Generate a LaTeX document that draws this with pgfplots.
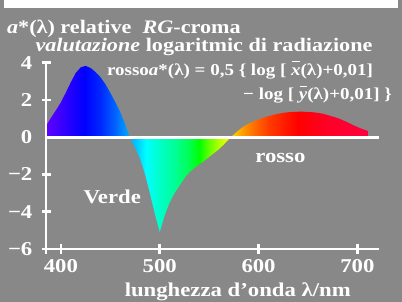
\documentclass[border=0pt]{standalone}
\usepackage{graphicx}
\usepackage{xcolor}
\usepackage{fontspec}
\setmainfont{Liberation Serif}
\usepackage{pgfplots}
\pgfplotsset{compat=1.18}
\definecolor{bggray}{RGB}{136,136,136}
\definecolor{wA}{RGB}{255,255,255}
\definecolor{wB}{RGB}{254,254,254}
\definecolor{wC}{RGB}{255,255,254}
\definecolor{wD}{RGB}{255,254,255}
\definecolor{wE}{RGB}{254,255,255}
\definecolor{wF}{RGB}{254,254,255}
\definecolor{wG}{RGB}{254,255,254}
\definecolor{wH}{RGB}{255,254,254}
\definecolor{wI}{RGB}{253,253,253}
\definecolor{wJ}{RGB}{253,254,254}
\definecolor{wK}{RGB}{254,253,254}
\pagecolor{bggray}
\newcommand\W[1]{\scalebox{1.16}[1]{#1}}
\newcommand\barit[1]{\leavevmode\setbox0\hbox{\itshape #1}\rlap{\kern0.12\wd0\raisebox{0.78em}{\rule{0.8\wd0}{0.055em}}}\box0}
\definecolor{s385}{RGB}{95,0,255}
\definecolor{s400}{RGB}{60,0,255}
\definecolor{s415}{RGB}{20,0,255}
\definecolor{s424}{RGB}{0,0,255}
\definecolor{s440}{RGB}{0,40,255}
\definecolor{s455}{RGB}{0,100,255}
\definecolor{s469}{RGB}{0,170,255}
\definecolor{s476}{RGB}{0,200,255}
\definecolor{s486}{RGB}{0,255,255}
\definecolor{s500}{RGB}{0,255,200}
\definecolor{s515}{RGB}{0,255,150}
\definecolor{s530}{RGB}{0,255,80}
\definecolor{s540}{RGB}{0,255,0}
\definecolor{s550}{RGB}{100,255,0}
\definecolor{s560}{RGB}{180,255,0}
\definecolor{s568}{RGB}{230,255,0}
\definecolor{s575}{RGB}{255,200,0}
\definecolor{s585}{RGB}{255,150,0}
\definecolor{s595}{RGB}{255,110,0}
\definecolor{s610}{RGB}{255,60,0}
\definecolor{s625}{RGB}{255,30,0}
\definecolor{s640}{RGB}{255,0,0}
\definecolor{s670}{RGB}{255,0,40}
\definecolor{s710}{RGB}{255,0,60}
\pgfdeclarehorizontalshading{spectrum}{100bp}{
 color(0bp)=(s385); color(25bp)=(s385); color(27.31bp)=(s400); color(29.62bp)=(s415);
 color(31bp)=(s424); color(33.46bp)=(s440); color(35.77bp)=(s455); color(37.92bp)=(s469);
 color(39bp)=(s476); color(40.54bp)=(s486); color(42.69bp)=(s500); color(45bp)=(s515);
 color(47.31bp)=(s530); color(48.85bp)=(s540); color(50.38bp)=(s550); color(51.92bp)=(s560);
 color(53.15bp)=(s568); color(54.23bp)=(s575); color(55.77bp)=(s585); color(57.31bp)=(s595);
 color(59.62bp)=(s610); color(61.92bp)=(s625); color(64.23bp)=(s640); color(68.85bp)=(s670);
 color(75bp)=(s710); color(100bp)=(s710)}
\begin{document}
\begin{tikzpicture}[x=1pt,y=1pt]
\path (-43,-54) rectangle (359,254);
\begin{axis}[
  at={(0,0)}, anchor=south west,
  scale only axis, width=339.7pt, height=190pt,
  xmin=385, xmax=722, ymin=-6, ymax=4,
  axis x line*=bottom, axis y line*=left,
  axis line style={draw=none},
  xtick={400,500,600,700}, ytick={-6,-4,-2,0,2,4},
  xticklabels={\W{400},\W{500},\W{600},\W{700}},
  yticklabels={\W{−6},\W{−4},\W{−2},\W{0},\W{2},\W{4}},
  tick style={draw=none},
  major tick length=9pt, tick align=center,
  ticklabel style={text=white, font=\fontsize{20}{20}\selectfont\bfseries},
  xticklabel style={yshift=-3pt},
  yticklabel style={xshift=-6pt},
  clip=false,
]
\addplot[draw=none, shading=spectrum] coordinates {
(385,0.62) (390,1.05) (395,1.45) (400,1.88) (405,2.4) (410,2.95) (415,3.45) (420,3.75) (425,3.83) (430,3.72)
(435,3.5) (440,3.22) (445,2.85) (450,2.38) (455,1.88) (460,1.35) (465,0.7) (469.5,0) (475,-0.55) (480,-1.15)
(485,-1.95) (490,-3.0) (495,-4.1) (500,-5.09) (505,-4.2) (510,-3.5) (515,-3.0) (520,-2.6) (525,-2.2) (530,-1.88)
(535,-1.65) (540,-1.45) (545,-1.27) (550,-1.05) (555,-0.85) (560,-0.64) (565,-0.38) (570,-0.1) (572,0) (575,0.15)
(580,0.38) (585,0.58) (590,0.73) (595,0.85) (600,0.95) (605,1.05) (610,1.13) (615,1.2) (620,1.26) (625,1.31)
(630,1.34) (635,1.36) (640,1.37) (645,1.37) (650,1.36) (655,1.34) (660,1.31) (665,1.26) (670,1.19) (675,1.11)
(680,1.03) (685,0.92) (690,0.8) (695,0.67) (700,0.55) (705,0.44) (710,0.35)
} \closedcycle;
% zero line
\addplot[wA, line width=2.7pt] coordinates {(385,0) (722,0)};
% axis lines
\addplot[wC, line width=2.7pt] coordinates {(381,-6) (722,-6)};
\addplot[wD, line width=2.7pt] coordinates {(385,-6.25) (385,4)};
% ticks
\addplot[wE, line width=2.7pt] coordinates {(400,-6.25) (400,-5.75)};
\addplot[wF, line width=2.7pt] coordinates {(500,-6.25) (500,-5.75)};
\addplot[wG, line width=2.7pt] coordinates {(600,-6.25) (600,-5.75)};
\addplot[wH, line width=2.7pt] coordinates {(700,-6.25) (700,-5.75)};
\addplot[wI, line width=2.7pt] coordinates {(381,-4) (390,-4)};
\addplot[wJ, line width=2.7pt] coordinates {(381,-2) (390,-2)};
\addplot[wK, line width=2.7pt] coordinates {(381,2) (390,2)};
\addplot[wC, line width=2.7pt] coordinates {(381,4) (390,4)};
% white strip at the top of the picture
\addplot[wB, line width=8pt] coordinates {(342.3,7.158) (741.2,7.158)};
\end{axis}
\begin{scope}[shift={(-43,-54)}, every node/.style={text=white, inner sep=0pt, font=\bfseries}]
\node[anchor=base west] at (3,273.7) {\fontsize{19.5}{20}\selectfont\W{\textit{a}*(λ) relative\ \ \textit{RG}-croma}};
\node[anchor=base west] at (32,255.3) {\fontsize{19.5}{20}\selectfont\W{\textit{valutazione} logaritmic di radiazione}};
\node[anchor=base west] at (105,231.3) {\fontsize{17}{18}\selectfont\scalebox{1.14}[1]{rosso\textit{a}*(λ) = 0,5 \{ log [ \barit{x}(λ)+0,01]}};
\node[anchor=base east] at (396,206.3) {\fontsize{17}{18}\selectfont\scalebox{1.14}[1]{− log [ \barit{y}(λ)+0,01] \}}};
\node[anchor=base] at (110.5,100) {\fontsize{20}{20}\selectfont\W{Verde}};
\node[anchor=base] at (282,142) {\fontsize{20}{20}\selectfont\W{rosso}};
\node[anchor=base] at (238.5,5.3) {\fontsize{20}{20}\selectfont\W{lunghezza d’onda λ/nm}};
\end{scope}
\end{tikzpicture}
\end{document}
